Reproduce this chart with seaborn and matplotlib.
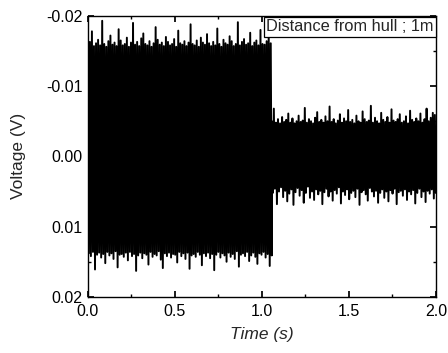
import numpy as np
import matplotlib
matplotlib.use("Agg")
import matplotlib.pyplot as plt
from matplotlib.ticker import FormatStrFormatter, MultipleLocator
import seaborn as sns

# envelope values (mV): top edge / bottom edge of the noise band
seg1_upper = [-15.9, -16.3, -17.8, -15.7, -16.1, -16.6, -15.8, -19.3, -16.0, -15.6,
              -16.4, -17.2, -15.9, -16.2, -15.7, -18.1, -16.5, -15.8, -16.0, -16.9,
              -15.6, -16.2, -19.0, -15.9, -16.3, -15.7, -16.8, -17.5, -16.0, -15.8,
              -16.4, -15.6, -16.1, -18.4, -16.6, -15.9, -16.2, -15.7, -17.0, -16.3,
              -15.8, -16.0, -16.7, -15.6, -17.9, -16.1, -15.9, -16.4, -15.7, -16.2,
              -18.8, -16.0, -15.8, -16.5, -15.6, -16.9, -16.2, -15.9, -17.4, -16.1,
              -15.7, -16.3, -15.8, -18.2, -16.0, -15.6, -16.6, -16.1, -15.9, -17.1,
              -16.4, -15.7, -16.0, -19.1, -15.8, -16.3, -16.7, -15.9, -16.1, -17.6,
              -15.7, -16.2, -16.5, -15.8, -18.0, -16.0, -15.9, -16.4, -17.3, -16.1]
seg1_lower = [13.8, 14.2, 13.6, 16.1, 14.0, 13.7, 14.4, 13.9, 15.2, 13.6,
              14.1, 13.8, 14.6, 13.5, 15.8, 14.0, 13.9, 14.3, 13.7, 14.8,
              13.6, 14.2, 13.9, 16.3, 14.1, 13.7, 14.5, 13.8, 14.0, 15.4,
              13.6, 14.3, 13.9, 14.1, 13.5, 14.7, 15.9, 13.8, 14.2, 13.7,
              14.4, 13.9, 14.0, 15.1, 13.6, 14.2, 13.8, 14.6, 13.7, 16.0,
              14.1, 13.9, 14.3, 13.6, 14.0, 15.5, 13.8, 14.2, 13.7, 14.5,
              13.9, 16.2, 14.0, 13.6, 14.4, 13.8, 14.1, 15.0, 13.7, 14.3,
              13.9, 14.6, 13.5, 15.7, 14.0, 13.8, 14.2, 13.6, 14.9, 14.1,
              13.7, 14.3, 15.3, 13.8, 14.0, 13.6, 14.4, 13.9, 15.6, 14.1]
seg2_upper = [-5.0, -6.8, -4.8, -5.3, -4.7, -5.6, -4.9, -5.2, -6.1, -4.8,
              -5.4, -4.7, -5.0, -5.8, -4.9, -5.1, -6.9, -4.8, -5.3, -5.0,
              -4.7, -5.5, -6.3, -4.9, -5.2, -4.8, -5.7, -5.0, -7.1, -4.9,
              -5.3, -4.7, -5.1, -6.0, -4.8, -5.4, -5.0, -6.6, -4.9, -5.2,
              -4.7, -5.8, -5.0, -4.8, -6.4, -5.3, -4.9, -5.1, -7.2, -4.8,
              -5.5, -5.0, -4.7, -6.2, -5.2, -4.9, -5.6, -4.8, -6.7, -5.1,
              -4.9, -5.3, -6.0, -4.8, -5.0, -5.7, -4.7, -6.5, -5.2, -4.9,
              -5.4, -5.0, -6.1, -4.8, -5.3, -6.8, -5.0, -5.5, -6.2, -5.9]
seg2_lower = [5.2, 4.6, 6.8, 5.0, 4.4, 5.8, 4.9, 6.4, 5.3, 4.7,
              6.9, 5.1, 4.5, 5.6, 4.8, 6.6, 5.2, 4.3, 5.9, 5.0,
              6.2, 4.7, 5.4, 4.9, 6.8, 5.1, 4.6, 5.7, 5.0, 6.3,
              4.8, 5.3, 4.4, 6.7, 5.0, 5.5, 4.7, 6.1, 5.2, 4.9,
              5.8, 4.6, 6.9, 5.1, 4.8, 5.4, 6.3, 4.5, 5.0, 5.7,
              4.9, 6.6, 5.2, 4.7, 5.9, 5.0, 6.4, 4.8, 5.3, 4.6,
              6.8, 5.1, 4.9, 5.6, 4.7, 6.2, 5.0, 5.4, 4.8, 6.7,
              5.2, 4.6, 5.8, 5.0, 6.5, 4.9, 5.3, 4.7, 6.0, 5.2]
t_switch = 1.057
t_end = 2.0
label_text = "Distance from hull ; 1m"

def zigzag(up, lo):
    v = np.empty(len(up) + len(lo))
    v[0::2] = up
    v[1::2] = lo
    return v / 1000.0

v1 = zigzag(seg1_upper, seg1_lower)
v2 = zigzag(seg2_upper, seg2_lower)
t1 = np.linspace(0.0, t_switch, len(v1))
t2 = np.linspace(t_switch, t_end, len(v2))
t = np.concatenate([t1, t2])
v = np.concatenate([v1, v2])

sns.set_theme(style="ticks")
plt.rcParams["font.family"] = ["Liberation Sans", "DejaVu Sans"]

fig = plt.figure(figsize=(4.48, 3.53), dpi=100)
ax = fig.add_axes([0.196, 0.159, 0.777, 0.796])
sns.lineplot(x=t, y=v, estimator=None, sort=False, color="black", lw=1.4, ax=ax)

ax.set_xlim(0, 2.0)
ax.set_ylim(0.02, -0.02)
ax.xaxis.set_major_locator(MultipleLocator(0.5))
ax.xaxis.set_minor_locator(MultipleLocator(0.25))
ax.yaxis.set_major_locator(MultipleLocator(0.01))
ax.yaxis.set_minor_locator(MultipleLocator(0.005))
ax.xaxis.set_major_formatter(FormatStrFormatter("%.1f"))
ax.yaxis.set_major_formatter(FormatStrFormatter("%.2f"))
ax.tick_params(which="both", direction="in", top=True, right=True, labelsize=11.5, colors="black")
ax.tick_params(which="major", length=4)
ax.tick_params(which="minor", length=2)
ax.tick_params(axis="x", which="major", pad=5)
ax.tick_params(axis="y", which="major", pad=4)
for s in ax.spines.values():
    s.set_color("black")
    s.set_linewidth(1.0)

ax.set_xlabel("Time (s)", fontsize=12.5, style="italic")
ax.set_ylabel("Voltage (V)", fontsize=12.5)
ax.xaxis.set_label_coords(0.5, -0.108)
ax.yaxis.set_label_coords(-0.178, 0.5)

ax.text(0.993, 0.988, label_text, transform=ax.transAxes, ha="right", va="top",
        fontsize=11.8, bbox=dict(boxstyle="square,pad=0.15", fc="white", ec="black", lw=0.9))

fig.savefig("out.png", dpi=100)
